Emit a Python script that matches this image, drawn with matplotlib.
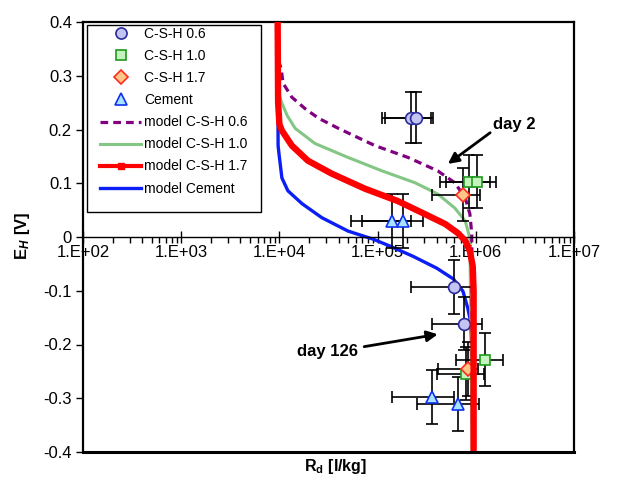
import numpy as np
import matplotlib
matplotlib.use('Agg')
import matplotlib.pyplot as plt
from matplotlib.lines import Line2D
from matplotlib.patches import Rectangle
from matplotlib.ticker import FixedLocator, FuncFormatter, LogLocator, NullFormatter

plt.rcParams['font.family'] = ['Liberation Sans', 'DejaVu Sans']
plt.rcParams['mathtext.fontset'] = 'custom'
plt.rcParams['mathtext.rm'] = 'Liberation Sans'
plt.rcParams['mathtext.bf'] = 'Liberation Sans:bold'
plt.rcParams['mathtext.it'] = 'Liberation Sans:bold:italic'

# measured points: Rd [l/kg], E_H [V], x error range, y error half width
csh06_rd = [2.2e5, 2.45e5, 6.0e5, 7.6e5]
csh06_eh = [0.222, 0.222, -0.093, -0.161]
csh06_rd_lo = [1.1e5, 1.2e5, 2.2e5, 3.6e5]
csh06_rd_hi = [3.5e5, 3.7e5, 9.6e5, 1.15e6]
csh06_err = [0.048, 0.048, 0.05, 0.05]

csh10_rd = [8.5e5, 1.02e6, 1.23e6, 7.9e5]
csh10_eh = [0.103, 0.103, -0.228, -0.254]
csh10_rd_lo = [4.3e5, 5.0e5, 6.3e5, 4.0e5]
csh10_rd_hi = [1.4e6, 1.6e6, 1.9e6, 1.2e6]
csh10_err = [0.049, 0.049, 0.05, 0.05]

csh17_rd = [7.4e5, 8.3e5]
csh17_eh = [0.079, -0.245]
csh17_rd_lo = [3.6e5, 4.1e5]
csh17_rd_hi = [1.1e6, 1.05e6]
csh17_err = [0.05, 0.05]

cem_rd = [1.4e5, 1.8e5, 3.6e5, 6.6e5]
cem_eh = [0.030, 0.030, -0.297, -0.310]
cem_rd_lo = [5.4e4, 6.9e4, 1.4e5, 2.5e5]
cem_rd_hi = [2.2e5, 2.9e5, 6.0e5, 1.07e6]
cem_err = [0.05, 0.05, 0.05, 0.05]

# model curves
m06_eh = [0.40, 0.33, 0.314, 0.286, 0.260, 0.239, 0.221, 0.202, 0.170, 0.148, 0.123, 0.101, 0.073, 0.043, 0.006, -0.40]
m06_rd = [9.6e3, 9.7e3, 1.04e4, 1.09e4, 1.34e4, 1.82e4, 2.5e4, 4.0e4, 9.4e4, 2.04e5, 4.1e5, 6.1e5, 7.8e5, 8.7e5, 9.1e5, 9.3e5]

m10_eh = [0.40, 0.27, 0.249, 0.226, 0.202, 0.174, 0.148, 0.123, 0.101, 0.080, 0.054, 0.030, -0.002, -0.40]
m10_rd = [9.6e3, 9.7e3, 1.06e4, 1.2e4, 1.45e4, 2.3e4, 5.0e4, 1.11e5, 2.4e5, 4.1e5, 6.1e5, 7.8e5, 8.7e5, 9.2e5]

m17_eh = [0.40, 0.25, 0.21, 0.198, 0.170, 0.142, 0.118, 0.090, 0.067, 0.043, 0.024, 0.007, -0.007, -0.026, -0.054, -0.10, -0.40]
m17_rd = [9.6e3, 9.7e3, 1.0e4, 1.06e4, 1.34e4, 1.95e4, 3.4e4, 7.4e4, 1.6e5, 3.0e5, 4.9e5, 6.6e5, 7.8e5, 8.7e5, 9.3e5, 9.5e5, 9.5e5]

mcem_eh = [0.40, 0.17, 0.155, 0.110, 0.086, 0.062, 0.036, 0.011, -0.004, -0.017, -0.036, -0.058, -0.078, -0.101, -0.133, -0.151, -0.194, -0.40]
mcem_rd = [9.6e3, 9.7e3, 9.9e3, 1.06e4, 1.22e4, 1.7e4, 2.7e4, 5.0e4, 9.0e4, 1.34e5, 2.3e5, 4.0e5, 5.9e5, 7.4e5, 8.3e5, 8.7e5, 9.1e5, 9.3e5]

x_decades = [1e2, 1e3, 1e4, 1e5, 1e6, 1e7]
y_ticks = [-0.4, -0.3, -0.2, -0.1, 0.0, 0.1, 0.2, 0.3, 0.4]


def points(ax, rd, eh, lo, hi, err, marker, face, edge, size):
    rd = np.array(rd)
    xerr = [rd - np.array(lo), np.array(hi) - rd]
    ax.errorbar(rd, eh, xerr=xerr, yerr=err, fmt='none', ecolor='black',
                elinewidth=1.2, capsize=4, capthick=1.2, zorder=3)
    ax.plot(rd, eh, linestyle='none', marker=marker, markersize=size,
            markerfacecolor=face, markeredgecolor=edge, markeredgewidth=1.2, zorder=3.5)


def draw_chart():
    fig = plt.figure(figsize=(6.21, 4.92), dpi=100)
    ax = fig.add_axes([83 / 621, 40 / 492, 491 / 621, 430 / 492])
    ax.set_xscale('log')
    ax.set_xlim(1e2, 1e7)
    ax.set_ylim(-0.4, 0.4)

    points(ax, csh06_rd, csh06_eh, csh06_rd_lo, csh06_rd_hi, csh06_err, 'o', '#C4C4F2', '#2A2A9C', 8.5)
    points(ax, csh10_rd, csh10_eh, csh10_rd_lo, csh10_rd_hi, csh10_err, 's', '#C6F2BE', '#1F9A1F', 7)
    points(ax, csh17_rd, csh17_eh, csh17_rd_lo, csh17_rd_hi, csh17_err, 'D', '#FFC68A', '#FF2A1A', 7)
    points(ax, cem_rd, cem_eh, cem_rd_lo, cem_rd_hi, cem_err, '^', '#A8E4FF', '#1030F0', 9)

    ax.plot(mcem_rd, mcem_eh, color='#0A1EF5', lw=2.4, zorder=2)
    ax.plot(m10_rd, m10_eh, color='#84C684', lw=2.2, zorder=2.2)
    ax.plot(m06_rd, m06_eh, color='#800080', lw=2.3, dashes=(2.4, 1.6), zorder=2.4)
    ax.plot(m17_rd, m17_eh, color='#FF0000', lw=4.6, zorder=4)

    # x axis crosses at E = 0, Excel style
    ax.spines['bottom'].set_position(('data', 0))
    ax.spines['bottom'].set_linewidth(1.0)
    for s in ['left', 'top', 'right']:
        ax.spines[s].set_linewidth(1.6)
    ax.plot([0, 1], [0, 0], transform=ax.transAxes, color='black', lw=2.2, clip_on=False, zorder=5)

    ax.xaxis.set_major_locator(FixedLocator(x_decades))
    ax.xaxis.set_minor_locator(LogLocator(base=10, subs=np.arange(2, 10), numticks=20))
    ax.xaxis.set_minor_formatter(NullFormatter())
    ax.xaxis.set_major_formatter(FuncFormatter(lambda v, p: '1.E+%02d' % int(round(np.log10(v)))))
    ax.tick_params(axis='x', which='major', direction='inout', length=8, width=1, labelsize=12, pad=2)
    ax.tick_params(axis='x', which='minor', direction='out', length=4, width=1)

    ax.yaxis.set_major_locator(FixedLocator(y_ticks))
    ax.yaxis.set_major_formatter(FuncFormatter(lambda v, p: '0' if abs(v) < 1e-9 else '%.1f' % v))
    ax.tick_params(axis='y', direction='out', length=5, width=1, labelsize=12, pad=3)

    fig.text(22 / 621, 1 - 236 / 492, r'$\mathbf{E}_{\mathit{H}}\ \mathbf{[V]}$', rotation=90,
             ha='center', va='center', fontsize=12)
    fig.text(336 / 621, 1 - 467 / 492, r'$\mathbf{R_d\ [l/kg]}$', ha='center', va='center', fontsize=11.5)

    # annotations
    ax.annotate('', xy=(5.2e5, 0.136), xytext=(1.4e6, 0.194),
                arrowprops=dict(arrowstyle='-|>', color='black', lw=2, mutation_scale=16, shrinkA=0, shrinkB=0))
    ax.text(1.5e6, 0.209, 'day 2', fontsize=12, fontweight='bold', ha='left', va='center')
    ax.annotate('', xy=(4.1e5, -0.181), xytext=(7.3e4, -0.204),
                arrowprops=dict(arrowstyle='-|>', color='black', lw=2, mutation_scale=16, shrinkA=0, shrinkB=0))
    ax.text(6.3e4, -0.213, 'day 126', fontsize=12, fontweight='bold', ha='right', va='center')

    # legend
    handles = [
        Line2D([], [], ls='none', marker='o', markersize=8, mfc='#C4C4F2', mec='#2A2A9C', mew=1.2),
        Line2D([], [], ls='none', marker='s', markersize=7, mfc='#C6F2BE', mec='#1F9A1F', mew=1.2),
        Line2D([], [], ls='none', marker='D', markersize=7, mfc='#FFC68A', mec='#FF2A1A', mew=1.2),
        Line2D([], [], ls='none', marker='^', markersize=9, mfc='#A8E4FF', mec='#1030F0', mew=1.2),
        Line2D([], [], color='#800080', lw=2.3, dashes=(2.4, 1.6)),
        Line2D([], [], color='#84C684', lw=2.2),
        Line2D([], [], color='#FF0000', lw=3, marker='s', markersize=5),
        Line2D([], [], color='#0A1EF5', lw=2.4),
    ]
    labels = ['C-S-H 0.6', 'C-S-H 1.0', 'C-S-H 1.7', 'Cement',
              'model C-S-H 0.6', 'model C-S-H 1.0', 'model C-S-H 1.7', 'model Cement']
    ax.legend(handles, labels, loc='upper left', bbox_to_anchor=(0.034, 0.988), frameon=False,
              borderpad=0, borderaxespad=0, handlelength=3, handletextpad=0.2,
              labelspacing=0.58, fontsize=10, numpoints=1)
    ax.add_patch(Rectangle((0.008, 0.558), 0.3545, 0.435, transform=ax.transAxes,
                           fill=False, edgecolor='black', lw=1.0, zorder=6))

    fig.savefig('out.png', dpi=100)


if __name__ == '__main__':
    draw_chart()
